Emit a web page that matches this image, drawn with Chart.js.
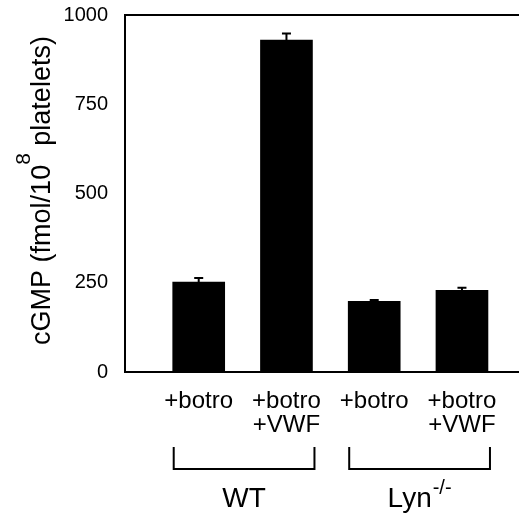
<!DOCTYPE html>
<html><head><meta charset="utf-8">
<script src="https://cdn.jsdelivr.net/npm/chart.js@4/dist/chart.umd.min.js"></script>
<style>html,body{margin:0;padding:0;background:#fff}</style>
</head><body>
<canvas id="c" width="519" height="513"></canvas>
<script>
const categories = [["+botro"], ["+botro", "+VWF"], ["+botro"], ["+botro", "+VWF"]];
const positions = [1, 2, 3, 4];
const means = [252, 930, 198, 229];
const errors = [11, 18, 4, 7];
const groupLabels = ["WT", "Lyn"];
const groupSups = ["", "-/-"];
const groupMembers = [[0, 1], [2, 3]];
const yTicks = [0, 250, 500, 750, 1000];
const yTitleParts = ["cGMP (fmol/10", "8", " platelets)"];

const FONT = "'Liberation Sans', Arial, Helvetica, sans-serif";

const extras = {
  id: 'extras',
  afterDraw(chart) {
    const ctx = chart.ctx;
    const ca = chart.chartArea;
    const ys = chart.scales.y;
    const meta = chart.getDatasetMeta(0);
    ctx.save();
    ctx.strokeStyle = '#000';
    ctx.fillStyle = '#000';
    // top frame line
    ctx.lineWidth = 2;
    ctx.beginPath();
    ctx.moveTo(ca.left - 1, ca.top);
    ctx.lineTo(chart.width, ca.top);
    ctx.stroke();
    // error bars (upper)
    meta.data.forEach((bar, i) => {
      const yb = ys.getPixelForValue(means[i]);
      const yt = ys.getPixelForValue(means[i] + errors[i]);
      ctx.beginPath();
      ctx.moveTo(bar.x, yb);
      ctx.lineTo(bar.x, yt);
      ctx.moveTo(bar.x - 4.5, yt);
      ctx.lineTo(bar.x + 4.5, yt);
      ctx.stroke();
    });
    // group brackets and labels
    groupMembers.forEach((m, g) => {
      const b0 = meta.data[m[0]], b1 = meta.data[m[1]];
      const x0 = b0.x - b0.width / 2 + 1, x1 = b1.x + b1.width / 2 + 2;
      ctx.lineWidth = 2;
      ctx.beginPath();
      ctx.moveTo(x0, 447);
      ctx.lineTo(x0, 469);
      ctx.lineTo(x1, 469);
      ctx.lineTo(x1, 447);
      ctx.stroke();
      const cx = (x0 + x1) / 2;
      ctx.textBaseline = 'alphabetic';
      ctx.textAlign = 'left';
      ctx.font = '28px ' + FONT;
      const w1 = ctx.measureText(groupLabels[g]).width;
      ctx.font = '20px ' + FONT;
      const w2 = groupSups[g] ? ctx.measureText(groupSups[g]).width + 1 : 0;
      const sx = cx - (w1 + w2) / 2;
      ctx.font = '28px ' + FONT;
      ctx.fillText(groupLabels[g], sx, 507);
      if (groupSups[g]) {
        ctx.font = '20px ' + FONT;
        ctx.fillText(groupSups[g], sx + w1 + 1, 494);
      }
    });
    // y-axis title with superscript
    const cy = (ca.top + ca.bottom) / 2 - 3;
    ctx.translate(50, cy);
    ctx.rotate(-Math.PI / 2);
    ctx.textBaseline = 'alphabetic';
    ctx.textAlign = 'left';
    const fMain = '27px ' + FONT, fSup = '21px ' + FONT;
    ctx.font = fMain;
    const a = ctx.measureText(yTitleParts[0]).width;
    const c = ctx.measureText(yTitleParts[2]).width;
    ctx.font = fSup;
    const b = ctx.measureText(yTitleParts[1]).width;
    let x = -(a + b + c) / 2;
    ctx.font = fMain;
    ctx.fillText(yTitleParts[0], x, 0); x += a;
    ctx.font = fSup;
    ctx.fillText(yTitleParts[1], x, -20); x += b;
    ctx.font = fMain;
    ctx.fillText(yTitleParts[2], x, 0);
    ctx.restore();
  }
};

new Chart(document.getElementById('c'), {
  type: 'bar',
  data: {
    datasets: [{
      data: positions.map((p, i) => ({ x: p, y: means[i] })),
      backgroundColor: '#000',
      borderWidth: 0,
      barThickness: 52
    }]
  },
  options: {
    responsive: false,
    animation: false,
    events: [],
    layout: { padding: { top: 15, right: 0, left: 0, bottom: 0 } },
    plugins: { legend: { display: false }, tooltip: { enabled: false } },
    scales: {
      x: {
        type: 'linear',
        min: 0.16,
        max: 4.65,
        offset: false,
        grid: { display: false, drawTicks: false },
        border: { display: true, width: 2, color: '#000' },
        afterBuildTicks: s => { s.ticks = positions.map(v => ({ value: v })); },
        afterFit: s => { s.height = 141; s.paddingLeft = 0; s.paddingRight = 0; },
        ticks: {
          autoSkip: false,
          maxRotation: 0,
          color: '#000',
          padding: 17,
          font: { family: FONT, size: 24, lineHeight: 1 },
          callback: v => { const i = positions.indexOf(v); return i >= 0 ? categories[i] : ''; }
        }
      },
      y: {
        min: 0,
        max: 1000,
        grid: { display: false, drawTicks: false },
        border: { display: true, width: 2, color: '#000' },
        afterBuildTicks: s => { s.ticks = yTicks.map(v => ({ value: v })); },
        afterFit: s => { s.width = 125; s.paddingTop = 0; s.paddingBottom = 0; },
        ticks: {
          color: '#000',
          padding: 17,
          font: { family: FONT, size: 20 },
          callback: v => String(v)
        }
      }
    }
  },
  plugins: [extras]
});
</script>
</body></html>
